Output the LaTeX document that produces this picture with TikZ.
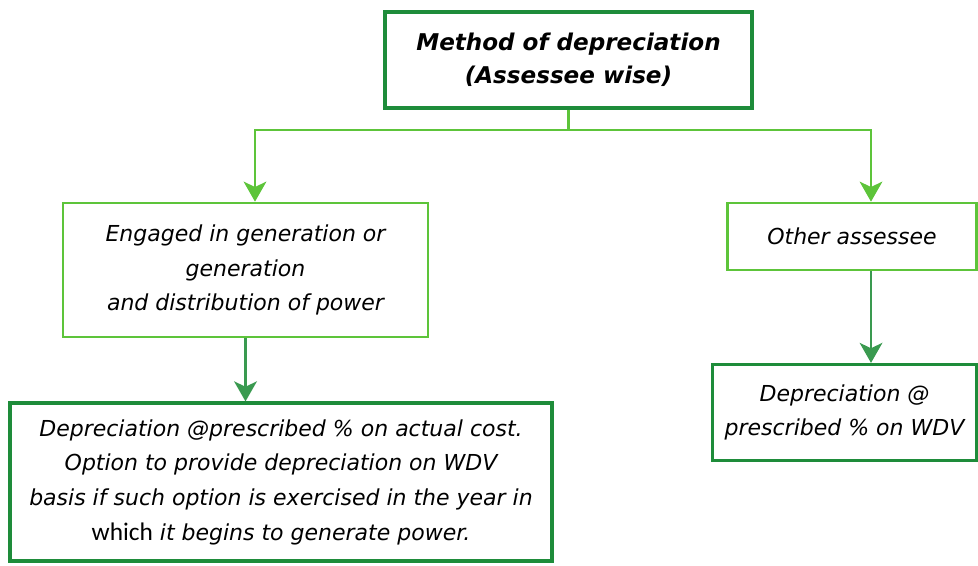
\documentclass[tikz,border=0pt]{standalone}
\usepackage{fontspec}
\setmainfont{DejaVu Sans}
\newfontfamily\plainfont{Carlito}
\usetikzlibrary{arrows.meta}
\definecolor{dgreen}{HTML}{1E8C3A}
\definecolor{lgreen}{HTML}{5DC43A}
\definecolor{mgreen}{HTML}{3A9A50}
\tikzset{
  boxbase/.style={rectangle, inner sep=0pt, align=center, fill=white},
  darkbox/.style={boxbase, draw=dgreen, line width=2.4pt},
  lightbox/.style={boxbase, draw=lgreen, line width=2pt},
  conn/.style={draw=lgreen, line width=1.8pt, -{Stealth[length=15pt,width=17pt,inset=4pt]}},
  connd/.style={draw=mgreen, line width=1.8pt, -{Stealth[length=15pt,width=17pt,inset=4pt]}},
  txt/.style={font=\fontsize{16.5}{26}\selectfont\itshape},
}
\begin{document}
\begin{tikzpicture}[x=0.75pt,y=-0.75pt]
\useasboundingbox (0,0) rectangle (978,565);
\node[darkbox, minimum width=367*0.75pt, minimum height=96*0.75pt,
      font=\fontsize{17.3}{25}\selectfont\bfseries\itshape] (top) at (568.5,60)
  {Method of depreciation\\(Assessee wise)};
\node[lightbox, txt, minimum width=365*0.75pt, minimum height=134*0.75pt] (eng) at (245.5,270)
  {Engaged in generation or\\generation\\and distribution of power};
\node[lightbox, txt, minimum width=249*0.75pt, minimum height=67*0.75pt] (oth) at (852,236.5)
  {Other assessee};
\node[darkbox, txt, minimum width=542*0.75pt, minimum height=158*0.75pt] (dep1) at (281,482)
  {Depreciation @prescribed \% on actual cost.\\Option to provide depreciation on WDV\\basis if such option is exercised in the year in\\{\plainfont\upshape\fontsize{19}{26}\selectfont which} it begins to generate power.};
\node[darkbox, txt, minimum width=264*0.75pt, minimum height=96*0.75pt] (dep2) at (844.5,412.5)
  {Depreciation @\\prescribed \% on WDV};
\coordinate (jl) at (255,130);
\coordinate (jr) at (871,130);
\draw[lgreen, line width=1.8pt] (top.south) -- (top.south |- jl);
\draw[conn] (jl) -- (jr |- jl) -- (jr |- oth.north);
\draw[conn] (jr |- jl) -- (jl) -- (jl |- eng.north);
\draw[connd] (eng.south) -- (eng.south |- dep1.north);
\draw[connd] (jr |- oth.south) -- (jr |- dep2.north);
\end{tikzpicture}
\end{document}
